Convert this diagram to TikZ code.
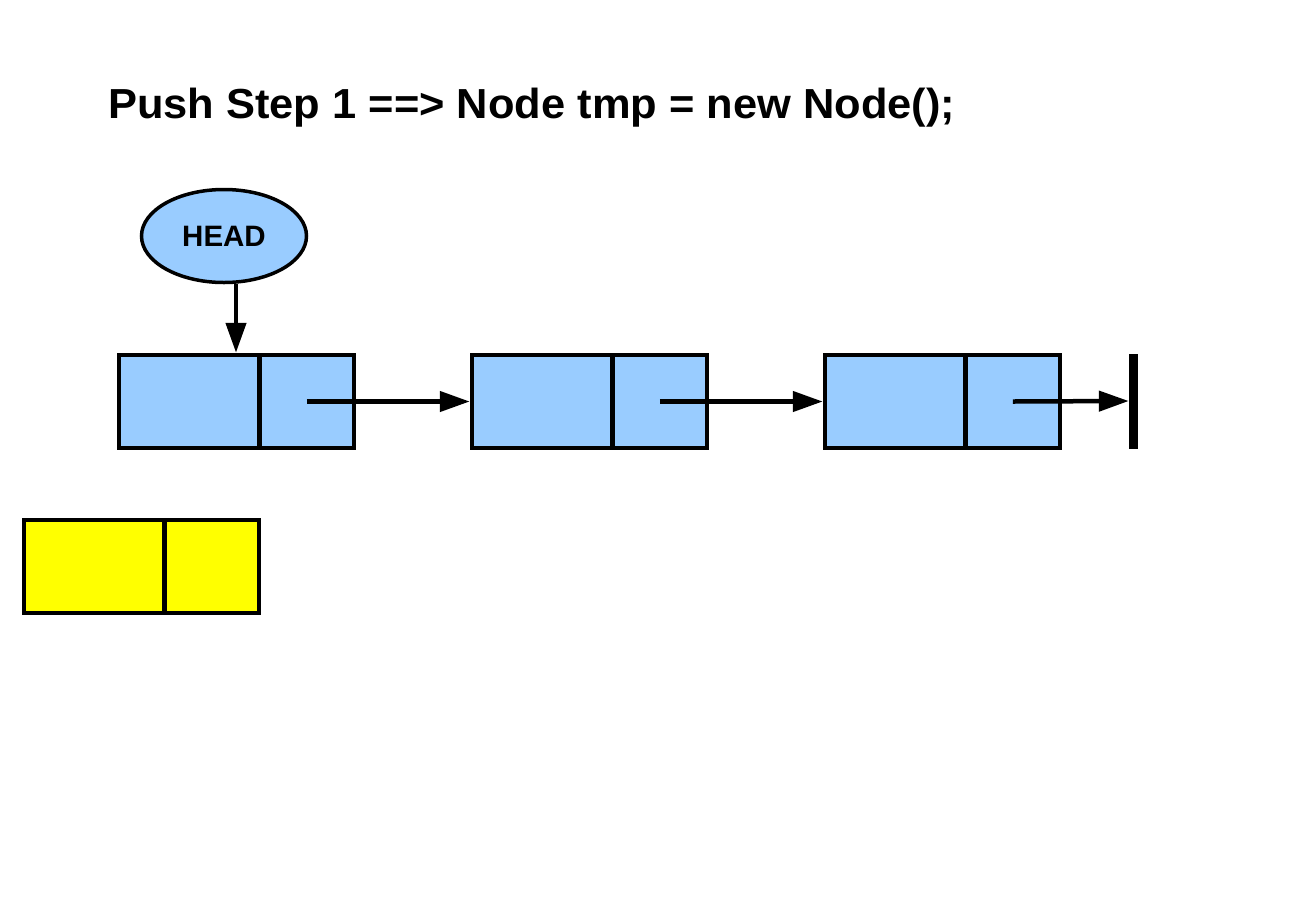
\documentclass[tikz,border=0pt]{standalone}
\usepackage{fontspec}
\setmainfont{Liberation Sans}
\usetikzlibrary{arrows.meta,shapes.geometric}
\definecolor{cellblue}{HTML}{99CCFF}
\definecolor{cellyellow}{HTML}{FFFF00}
\tikzset{
  datapart/.style={draw=black, line width=4.5pt, inner sep=0pt, minimum width=140.5pt, minimum height=93pt},
  ptrpart/.style={draw=black, line width=4.5pt, inner sep=0pt, minimum width=94.5pt, minimum height=93pt},
  link/.style={draw=black, line width=4.5pt, -{Triangle[length=30pt,width=20pt]}},
  headnode/.style={ellipse, draw=black, line width=3.5pt, fill=cellblue, inner sep=0pt, minimum width=165pt, minimum height=93pt, font=\bfseries\fontsize{29.5}{34}\selectfont},
  nullbar/.style={fill=black, inner sep=0pt, minimum width=9pt, minimum height=95pt}
}
\begin{document}
\begin{tikzpicture}[x=1pt,y=-1pt]
\useasboundingbox (0,0) rectangle (1309,898);
% title
\node[anchor=base west, inner sep=0pt, font=\bfseries\fontsize{42}{50}\selectfont] (title) at (108,118) {\resizebox{847pt}{\height}{Push Step 1 ==> Node tmp = new Node();}};
% head
\node[headnode] (head) at (224,236) {HEAD};
% list nodes
\node[datapart, fill=cellblue] (n1d) at (189.25,401.5) {};
\node[ptrpart, fill=cellblue] (n1p) at (306.75,401.5) {};
\node[datapart, fill=cellblue] (n2d) at (542.25,401.5) {};
\node[ptrpart, fill=cellblue] (n2p) at (659.75,401.5) {};
\node[datapart, fill=cellblue] (n3d) at (895.25,401.5) {};
\node[ptrpart, fill=cellblue] (n3p) at (1012.75,401.5) {};
\node[nullbar] (null) at (1133.5,401) {};
% new node
\node[datapart, fill=cellyellow] (tmpd) at (94.25,566.5) {};
\node[ptrpart, fill=cellyellow] (tmpp) at (211.75,566.5) {};
% connectors
\draw[link] ([xshift=12pt]head.south) -- ([xshift=12pt]head.south |- n1d.north);
\draw[link] (n1p.center) -- (n2d.west);
\draw[link] (n2p.center) -- (n3d.west);
\draw[link] (n3p.center) -- (null.west);
\end{tikzpicture}
\end{document}
